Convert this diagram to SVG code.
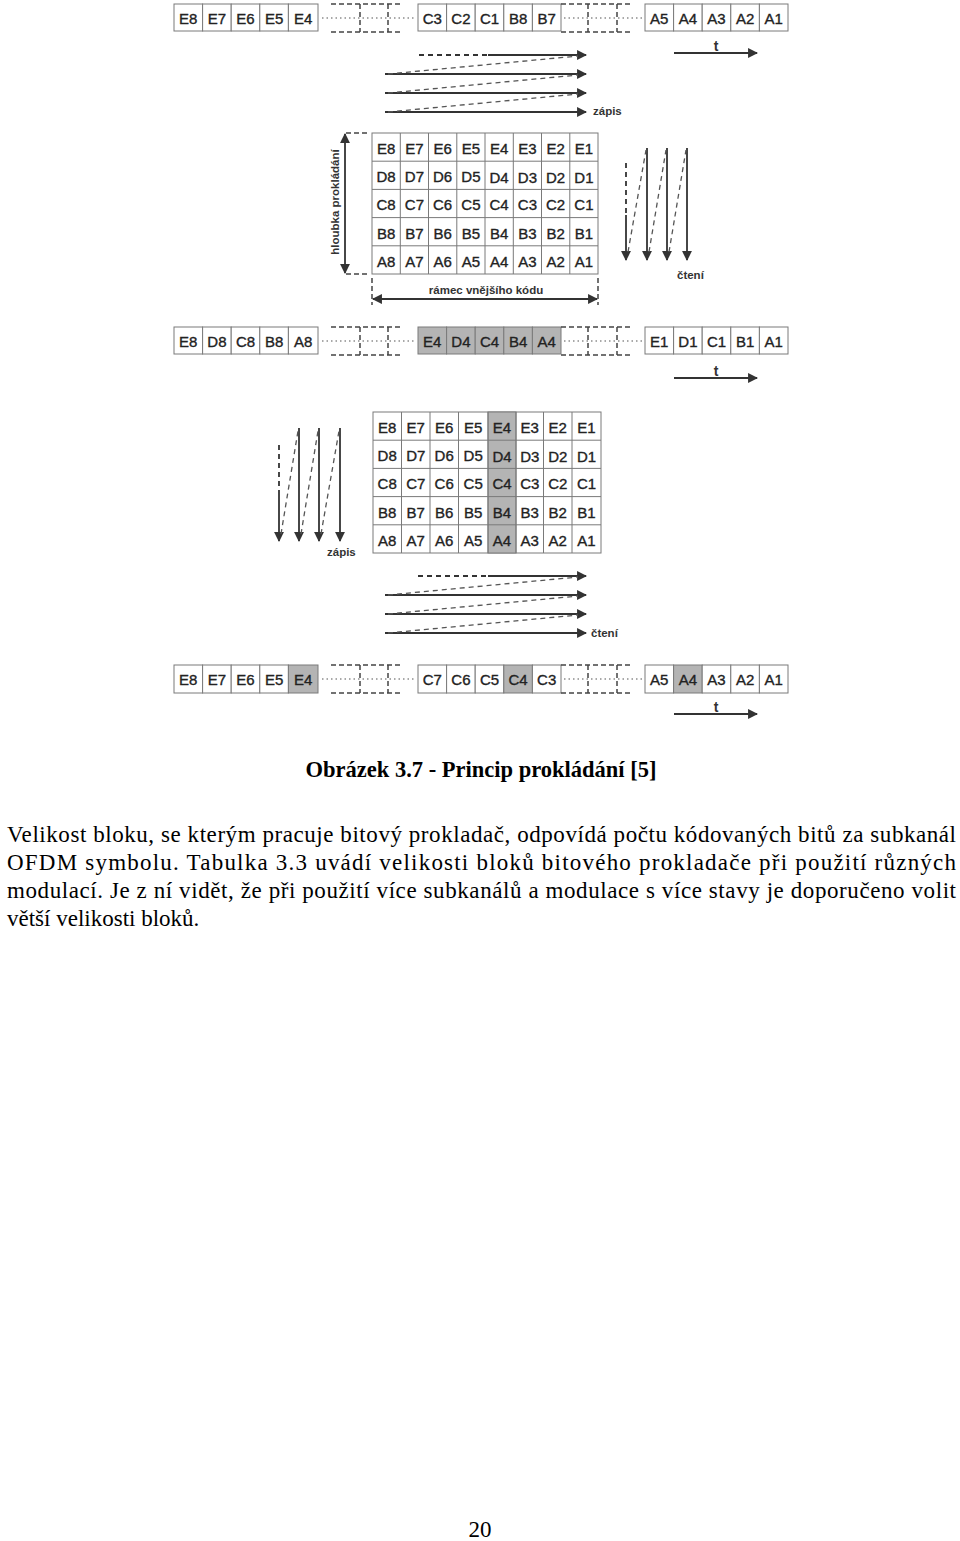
<svg xmlns="http://www.w3.org/2000/svg" width="960" height="1541" viewBox="0 0 960 1541">
<defs>
<style>
.cell{fill:#fff;stroke:#7a7a7a;stroke-width:1}
.sh{fill:#b4b4b4;stroke:#7a7a7a;stroke-width:1}
.ct{font-family:"Liberation Sans",Arial,sans-serif;font-size:15px;fill:#222;stroke:#222;stroke-width:0.35;text-anchor:middle;dominant-baseline:central}
.lb{font-family:"Liberation Sans",Arial,sans-serif;font-size:11.5px;font-weight:bold;fill:#333}
.tl{font-family:"Liberation Sans",Arial,sans-serif;font-size:14px;font-weight:bold;fill:#333;text-anchor:middle}
.gd{fill:none;stroke:#444;stroke-width:1.5;stroke-dasharray:5 3}
.dot{fill:none;stroke:#555;stroke-width:1.2;stroke-dasharray:1.5 3}
.ar{fill:none;stroke:#333;stroke-width:1.8}
.ad{fill:none;stroke:#555;stroke-width:1.3;stroke-dasharray:5 4}
.ad2{fill:none;stroke:#333;stroke-width:1.8;stroke-dasharray:5 4}
.body{font-family:"Liberation Serif","Times New Roman",serif;font-size:23px;fill:#000}
</style>
<marker id="ah" viewBox="0 0 10 10" refX="9" refY="5" markerWidth="5.5" markerHeight="5.5" orient="auto-start-reverse" markerUnits="strokeWidth"><path d="M0,0 L10,5 L0,10 z" fill="#333"/></marker>
</defs>

<g id="row1">
<rect class="cell" x="174" y="4" width="28.6" height="27"/><text class="ct" x="188.3" y="18">E8</text>
<rect class="cell" x="202.6" y="4" width="28.6" height="27"/><text class="ct" x="216.9" y="18">E7</text>
<rect class="cell" x="231.2" y="4" width="28.6" height="27"/><text class="ct" x="245.5" y="18">E6</text>
<rect class="cell" x="259.8" y="4" width="28.6" height="27"/><text class="ct" x="274.1" y="18">E5</text>
<rect class="cell" x="288.4" y="4" width="29.6" height="27"/><text class="ct" x="303.2" y="18">E4</text>
<path class="gd" d="M331,4 H403 M331,32 H403 M360,4 V32 M388,4 V32"/>
<path class="dot" d="M322,18 H415"/>
<rect class="cell" x="418" y="4" width="28.6" height="27"/><text class="ct" x="432.3" y="18">C3</text>
<rect class="cell" x="446.6" y="4" width="28.6" height="27"/><text class="ct" x="460.9" y="18">C2</text>
<rect class="cell" x="475.2" y="4" width="28.6" height="27"/><text class="ct" x="489.5" y="18">C1</text>
<rect class="cell" x="503.8" y="4" width="28.6" height="27"/><text class="ct" x="518.1" y="18">B8</text>
<rect class="cell" x="532.4" y="4" width="28.6" height="27"/><text class="ct" x="546.7" y="18">B7</text>
<path class="gd" d="M561,4 H632 M561,32 H632 M588,4 V32 M617,4 V32"/>
<path class="dot" d="M564,18 H643"/>
<rect class="cell" x="645" y="4" width="28.6" height="27"/><text class="ct" x="659.3" y="18">A5</text>
<rect class="cell" x="673.6" y="4" width="28.6" height="27"/><text class="ct" x="687.9" y="18">A4</text>
<rect class="cell" x="702.2" y="4" width="28.6" height="27"/><text class="ct" x="716.5" y="18">A3</text>
<rect class="cell" x="730.8" y="4" width="28.6" height="27"/><text class="ct" x="745.1" y="18">A2</text>
<rect class="cell" x="759.4" y="4" width="28.6" height="27"/><text class="ct" x="773.7" y="18">A1</text>
</g>

<g id="matrix1">
<rect class="cell" x="372" y="133" width="226" height="141"/>
<path fill="none" stroke="#7a7a7a" stroke-width="1" d="M400.3,133V274 M428.5,133V274 M456.8,133V274 M485,133V274 M513.3,133V274 M541.5,133V274 M569.8,133V274 M372,161.2H598 M372,189.4H598 M372,217.6H598 M372,245.8H598"/>
<text class="ct" x="386.1" y="148">E8</text><text class="ct" x="414.4" y="148">E7</text><text class="ct" x="442.6" y="148">E6</text><text class="ct" x="470.9" y="148">E5</text><text class="ct" x="499.1" y="148">E4</text><text class="ct" x="527.4" y="148">E3</text><text class="ct" x="555.6" y="148">E2</text><text class="ct" x="583.9" y="148">E1</text>
<text class="ct" x="386.1" y="176">D8</text><text class="ct" x="414.4" y="176">D7</text><text class="ct" x="442.6" y="176">D6</text><text class="ct" x="470.9" y="176">D5</text><text class="ct" x="499.1" y="177">D4</text><text class="ct" x="527.4" y="177">D3</text><text class="ct" x="555.6" y="177">D2</text><text class="ct" x="583.9" y="177">D1</text>
<text class="ct" x="386.1" y="204">C8</text><text class="ct" x="414.4" y="204">C7</text><text class="ct" x="442.6" y="204">C6</text><text class="ct" x="470.9" y="204">C5</text><text class="ct" x="499.1" y="204">C4</text><text class="ct" x="527.4" y="204">C3</text><text class="ct" x="555.6" y="204">C2</text><text class="ct" x="583.9" y="204">C1</text>
<text class="ct" x="386.1" y="233">B8</text><text class="ct" x="414.4" y="233">B7</text><text class="ct" x="442.6" y="233">B6</text><text class="ct" x="470.9" y="233">B5</text><text class="ct" x="499.1" y="233">B4</text><text class="ct" x="527.4" y="233">B3</text><text class="ct" x="555.6" y="233">B2</text><text class="ct" x="583.9" y="233">B1</text>
<text class="ct" x="386.1" y="261">A8</text><text class="ct" x="414.4" y="261">A7</text><text class="ct" x="442.6" y="261">A6</text><text class="ct" x="470.9" y="261">A5</text><text class="ct" x="499.1" y="261">A4</text><text class="ct" x="527.4" y="261">A3</text><text class="ct" x="555.6" y="261">A2</text><text class="ct" x="583.9" y="261">A1</text>
</g>

<g id="depth-label">
<text class="lb" x="0" y="0" text-anchor="middle" transform="translate(339,202) rotate(-90)">hloubka prokládání</text>
</g>
<g id="frame-label">
<text class="lb" x="486" y="294" text-anchor="middle">rámec vnějšího kódu</text>
</g>

<g id="row2">
<rect class="cell" x="174" y="327" width="28.6" height="27"/><text class="ct" x="188.3" y="341">E8</text>
<rect class="cell" x="202.6" y="327" width="28.6" height="27"/><text class="ct" x="216.9" y="341">D8</text>
<rect class="cell" x="231.2" y="327" width="28.6" height="27"/><text class="ct" x="245.5" y="341">C8</text>
<rect class="cell" x="259.8" y="327" width="28.6" height="27"/><text class="ct" x="274.1" y="341">B8</text>
<rect class="cell" x="288.4" y="327" width="29.6" height="27"/><text class="ct" x="303.2" y="341">A8</text>
<path class="gd" d="M331,327 H403 M331,355 H403 M360,327 V355 M388,327 V355"/>
<path class="dot" d="M322,341 H415"/>
<rect class="sh" x="418" y="327" width="28.6" height="27"/><text class="ct" x="432.3" y="341">E4</text>
<rect class="sh" x="446.6" y="327" width="28.6" height="27"/><text class="ct" x="460.9" y="341">D4</text>
<rect class="sh" x="475.2" y="327" width="28.6" height="27"/><text class="ct" x="489.5" y="341">C4</text>
<rect class="sh" x="503.8" y="327" width="28.6" height="27"/><text class="ct" x="518.1" y="341">B4</text>
<rect class="sh" x="532.4" y="327" width="28.6" height="27"/><text class="ct" x="546.7" y="341">A4</text>
<path class="gd" d="M561,327 H632 M561,355 H632 M588,327 V355 M617,327 V355"/>
<path class="dot" d="M564,341 H643"/>
<rect class="cell" x="645" y="327" width="28.6" height="27"/><text class="ct" x="659.3" y="341">E1</text>
<rect class="cell" x="673.6" y="327" width="28.6" height="27"/><text class="ct" x="687.9" y="341">D1</text>
<rect class="cell" x="702.2" y="327" width="28.6" height="27"/><text class="ct" x="716.5" y="341">C1</text>
<rect class="cell" x="730.8" y="327" width="28.6" height="27"/><text class="ct" x="745.1" y="341">B1</text>
<rect class="cell" x="759.4" y="327" width="28.6" height="27"/><text class="ct" x="773.7" y="341">A1</text>
</g>

<g id="matrix2">
<rect class="cell" x="373" y="412" width="228" height="141"/>
<rect class="sh" x="488" y="412" width="28" height="141"/>
<path fill="none" stroke="#7a7a7a" stroke-width="1" d="M401.5,412V553 M430,412V553 M458.5,412V553 M488,412V553 M516,412V553 M543.5,412V553 M572,412V553 M373,440.2H601 M373,468.4H601 M373,496.6H601 M373,524.8H601"/>
<text class="ct" x="387.2" y="427">E8</text><text class="ct" x="415.8" y="427">E7</text><text class="ct" x="444.2" y="427">E6</text><text class="ct" x="473.2" y="427">E5</text><text class="ct" x="502" y="427">E4</text><text class="ct" x="529.8" y="427">E3</text><text class="ct" x="557.8" y="427">E2</text><text class="ct" x="586.5" y="427">E1</text>
<text class="ct" x="387.2" y="455">D8</text><text class="ct" x="415.8" y="455">D7</text><text class="ct" x="444.2" y="455">D6</text><text class="ct" x="473.2" y="455">D5</text><text class="ct" x="502" y="456">D4</text><text class="ct" x="529.8" y="456">D3</text><text class="ct" x="557.8" y="456">D2</text><text class="ct" x="586.5" y="456">D1</text>
<text class="ct" x="387.2" y="483">C8</text><text class="ct" x="415.8" y="483">C7</text><text class="ct" x="444.2" y="483">C6</text><text class="ct" x="473.2" y="483">C5</text><text class="ct" x="502" y="483">C4</text><text class="ct" x="529.8" y="483">C3</text><text class="ct" x="557.8" y="483">C2</text><text class="ct" x="586.5" y="483">C1</text>
<text class="ct" x="387.2" y="512">B8</text><text class="ct" x="415.8" y="512">B7</text><text class="ct" x="444.2" y="512">B6</text><text class="ct" x="473.2" y="512">B5</text><text class="ct" x="502" y="512">B4</text><text class="ct" x="529.8" y="512">B3</text><text class="ct" x="557.8" y="512">B2</text><text class="ct" x="586.5" y="512">B1</text>
<text class="ct" x="387.2" y="540">A8</text><text class="ct" x="415.8" y="540">A7</text><text class="ct" x="444.2" y="540">A6</text><text class="ct" x="473.2" y="540">A5</text><text class="ct" x="502" y="540">A4</text><text class="ct" x="529.8" y="540">A3</text><text class="ct" x="557.8" y="540">A2</text><text class="ct" x="586.5" y="540">A1</text>
</g>

<g id="row3">
<rect class="cell" x="174" y="665" width="28.6" height="28"/><text class="ct" x="188.3" y="679">E8</text>
<rect class="cell" x="202.6" y="665" width="28.6" height="28"/><text class="ct" x="216.9" y="679">E7</text>
<rect class="cell" x="231.2" y="665" width="28.6" height="28"/><text class="ct" x="245.5" y="679">E6</text>
<rect class="cell" x="259.8" y="665" width="28.6" height="28"/><text class="ct" x="274.1" y="679">E5</text>
<rect class="sh" x="288.4" y="665" width="29.6" height="28"/><text class="ct" x="303.2" y="679">E4</text>
<path class="gd" d="M331,665 H403 M331,693 H403 M360,665 V693 M388,665 V693"/>
<path class="dot" d="M322,679 H415"/>
<rect class="cell" x="418" y="665" width="28.6" height="28"/><text class="ct" x="432.3" y="679">C7</text>
<rect class="cell" x="446.6" y="665" width="28.6" height="28"/><text class="ct" x="460.9" y="679">C6</text>
<rect class="cell" x="475.2" y="665" width="28.6" height="28"/><text class="ct" x="489.5" y="679">C5</text>
<rect class="sh" x="503.8" y="665" width="28.6" height="28"/><text class="ct" x="518.1" y="679">C4</text>
<rect class="cell" x="532.4" y="665" width="28.6" height="28"/><text class="ct" x="546.7" y="679">C3</text>
<path class="gd" d="M561,665 H632 M561,693 H632 M588,665 V693 M617,665 V693"/>
<path class="dot" d="M564,679 H643"/>
<rect class="cell" x="645" y="665" width="28.6" height="28"/><text class="ct" x="659.3" y="679">A5</text>
<rect class="sh" x="673.6" y="665" width="28.6" height="28"/><text class="ct" x="687.9" y="679">A4</text>
<rect class="cell" x="702.2" y="665" width="28.6" height="28"/><text class="ct" x="716.5" y="679">A3</text>
<rect class="cell" x="730.8" y="665" width="28.6" height="28"/><text class="ct" x="745.1" y="679">A2</text>
<rect class="cell" x="759.4" y="665" width="28.6" height="28"/><text class="ct" x="773.7" y="679">A1</text>
</g>

<g id="labels">
<text class="tl" x="716" y="51">t</text>
<text class="lb" x="593" y="115">zápis</text>
<text class="lb" x="677" y="279">čtení</text>
<text class="tl" x="716" y="376">t</text>
<text class="lb" x="327" y="556">zápis</text>
<text class="lb" x="591" y="637">čtení</text>
<text class="tl" x="716" y="712">t</text>
</g>

<g id="connectors">
<path class="ar" d="M674,53 H757" marker-end="url(#ah)"/>
<path class="ar" d="M674,378 H757" marker-end="url(#ah)"/>
<path class="ar" d="M674,714 H757" marker-end="url(#ah)"/>
<path class="ad2" d="M419,55 H488"/>
<path class="ar" d="M488,55 H586" marker-end="url(#ah)"/>
<path class="ar" d="M385,74 H586" marker-end="url(#ah)"/>
<path class="ar" d="M385,93 H586" marker-end="url(#ah)"/>
<path class="ar" d="M385,112 H586" marker-end="url(#ah)"/>
<path class="ad" d="M388,74 L578,56 M388,93 L578,75 M388,112 L578,94"/>
<path class="ad2" d="M626,163 V215"/>
<path class="ar" d="M626,215 V260" marker-end="url(#ah)"/>
<path class="ar" d="M647,148 V260" marker-end="url(#ah)"/>
<path class="ar" d="M667,148 V260" marker-end="url(#ah)"/>
<path class="ar" d="M687,148 V260" marker-end="url(#ah)"/>
<path class="ad" d="M628,252 L646,150 M649,252 L666,150 M669,252 L686,150"/>
<path class="ar" d="M345,134 V273" marker-start="url(#ah)" marker-end="url(#ah)"/>
<path class="gd" d="M346,133 H369 M346,274 H369"/>
<path class="ar" d="M373,299 H597" marker-start="url(#ah)" marker-end="url(#ah)"/>
<path class="gd" d="M372,278 V305 M598,278 V305"/>
<path class="ad2" d="M279,445 V495"/>
<path class="ar" d="M279,495 V541" marker-end="url(#ah)"/>
<path class="ar" d="M299,428 V541" marker-end="url(#ah)"/>
<path class="ar" d="M319,428 V541" marker-end="url(#ah)"/>
<path class="ar" d="M340,428 V541" marker-end="url(#ah)"/>
<path class="ad" d="M281,534 L298,431 M301,534 L318,431 M321,534 L339,431"/>
<path class="ad2" d="M418,576 H488"/>
<path class="ar" d="M488,576 H586" marker-end="url(#ah)"/>
<path class="ar" d="M385,595 H586" marker-end="url(#ah)"/>
<path class="ar" d="M385,614 H586" marker-end="url(#ah)"/>
<path class="ar" d="M385,633 H586" marker-end="url(#ah)"/>
<path class="ad" d="M388,595 L578,577 M388,614 L578,596 M388,633 L578,615"/>
</g>

<g id="caption">
<text x="481" y="777" text-anchor="middle" font-family="'Liberation Serif','Times New Roman',serif" font-size="22.5" font-weight="bold" fill="#000">Obrázek 3.7 - Princip prokládání [5]</text>
</g>

<g id="paragraph">
<text class="body" x="7" y="842" textLength="949" lengthAdjust="spacing">Velikost bloku, se kterým pracuje bitový prokladač, odpovídá počtu kódovaných bitů za subkanál</text>
<text class="body" x="7" y="870" textLength="949" lengthAdjust="spacing">OFDM symbolu. Tabulka 3.3 uvádí velikosti bloků bitového prokladače při použití různých</text>
<text class="body" x="7" y="898" textLength="949" lengthAdjust="spacing">modulací. Je z ní vidět, že při použití více subkanálů a modulace s více stavy je doporučeno volit</text>
<text class="body" x="7" y="926">větší velikosti bloků.</text>
</g>

<g id="page-number">
<text class="body" x="480" y="1537" text-anchor="middle">20</text>
</g>
</svg>
